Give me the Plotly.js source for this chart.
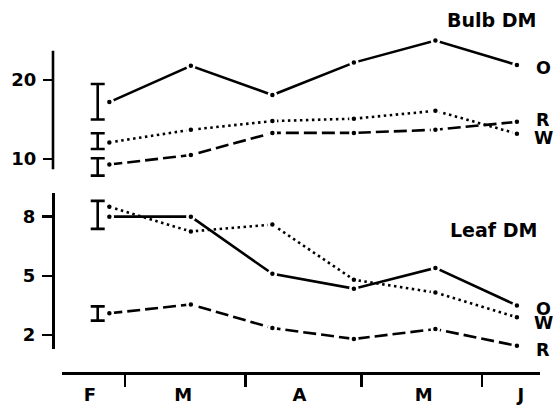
<!DOCTYPE html>
<html>
<head>
<meta charset="utf-8">
<script src="https://cdn.plot.ly/plotly-3.0.1.min.js"></script>
<style>html,body{margin:0;padding:0;background:#fff}#chart{width:553px;height:406px}</style>
</head>
<body>
<div id="chart"></div>
<script>
// ---- data (days from 1 Feb) ----
var sampleDays = [24, 45, 66, 87, 108, 129];
var bulbO = [17.2, 21.8, 18.1, 22.2, 25.0, 21.9];
var bulbW = [12.1, 13.7, 14.8, 15.1, 16.1, 13.2];
var bulbR = [9.3, 10.5, 13.3, 13.3, 13.7, 14.7];
var leafO = [8.0, 8.0, 5.1, 4.35, 5.4, 3.5];
var leafW = [8.5, 7.25, 7.6, 4.8, 4.15, 2.9];
var leafR = [3.1, 3.55, 2.35, 1.8, 2.3, 1.45];
var errDay = 21;
var bulbErrCenter = [17.25, 12.26, 8.99];
var bulbErrHalf = [2.25, 1.0, 1.1];
var leafErrCenter = [8.09, 3.09];
var leafErrHalf = [0.71, 0.36];
var monthLabels = ['F', 'M', 'A', 'M', 'J'];
var monthLabelDays = [19, 43, 73, 105, 130];
var monthBoundaries = [28, 59, 89, 120];
var bulbTicks = [10, 20];
var leafTicks = [2, 5, 8];

// ---- frame ----
var W = 553, H = 406, ML = 53, MR = 13, MT = 30, MB = 33;
var PW = W - ML - MR, PH = H - MT - MB;
function px(x) { return (x - ML) / PW; }
function py(y) { return (H - MB - y) / PH; }

var FONT = 'DejaVu Sans';
var mk = {color: 'black', size: 7, line: {color: 'white', width: 2.5}};
function series(x, y, ya, dash) {
  return {x: x, y: y, yaxis: ya, type: 'scatter', mode: 'lines+markers',
    line: {color: 'black', width: 2.6, dash: dash}, marker: mk, hoverinfo: 'skip'};
}
function errs(c, h, ya) {
  return {x: c.map(function () { return errDay; }), y: c, yaxis: ya, type: 'scatter', mode: 'markers',
    marker: {color: 'rgba(0,0,0,0)', size: 1},
    error_y: {type: 'data', array: h, visible: true, color: 'black', thickness: 2.6, width: 7},
    hoverinfo: 'skip'};
}

var traces = [
  errs(bulbErrCenter, bulbErrHalf, 'y'),
  errs(leafErrCenter, leafErrHalf, 'y2'),
  series(sampleDays, bulbO, 'y', 'solid'),
  series(sampleDays, bulbW, 'y', '2.5px,3.5px'),
  series(sampleDays, bulbR, 'y', '13px,5px'),
  series(sampleDays, leafO, 'y2', 'solid'),
  series(sampleDays, leafW, 'y2', '2.5px,3.5px'),
  series(sampleDays, leafR, 'y2', '13px,5px')
];

var tickFont = {family: FONT, size: 18, color: 'black', weight: 'bold'};
var layout = {
  width: W, height: H,
  margin: {l: ML, r: MR, t: MT, b: MB, pad: 0},
  paper_bgcolor: 'white', plot_bgcolor: 'white',
  showlegend: false,
  xaxis: {
    domain: [px(62), 1], range: [11.8, 134.95], anchor: 'free', position: 0,
    showline: true, linecolor: 'black', linewidth: 2.6, showgrid: false, zeroline: false,
    tickmode: 'array', tickvals: monthLabelDays, ticktext: monthLabels,
    ticks: 'outside', ticklen: 3, tickcolor: 'rgba(0,0,0,0)', ticklabelstandoff: 2,
    tickfont: {family: FONT, size: 18, color: 'black', weight: 'bold'},
    minor: {tickmode: 'array', tickvals: monthBoundaries, ticks: 'outside', ticklen: 12, tickwidth: 2.6, tickcolor: 'black', showgrid: false}
  },
  yaxis: {
    domain: [py(180), py(30)], range: [7.34, 26.33], anchor: 'free', position: 0,
    showline: false, showgrid: false, zeroline: false,
    tickmode: 'array', tickvals: bulbTicks, ticks: 'outside', ticklen: 10, tickwidth: 2.6, tickcolor: 'black',
    ticklabelstandoff: 3, tickfont: tickFont
  },
  yaxis2: {
    domain: [py(349), py(193)], range: [1.29, 9.20], anchor: 'free', position: 0,
    showline: true, linecolor: 'black', linewidth: 2.6, showgrid: false, zeroline: false,
    tickmode: 'array', tickvals: leafTicks, ticks: 'outside', ticklen: 10, tickwidth: 2.6, tickcolor: 'black',
    ticklabelstandoff: 3, tickfont: tickFont
  },
  shapes: [
    {type: 'line', xref: 'paper', yref: 'y', x0: 0, x1: 0, y0: 8.7, y1: 23.7, line: {color: 'black', width: 2.6}}
  ],
  annotations: [
    {text: 'Bulb DM', x: px(491.5), y: py(19.7)},
    {text: 'Leaf DM', x: px(493), y: py(230)}
  ].map(function (a) {
    return Object.assign({xref: 'paper', yref: 'paper', showarrow: false, xanchor: 'center', yanchor: 'middle',
      font: {family: FONT, size: 19, color: 'black', weight: 'bold'}}, a);
  }).concat([
    {text: 'O', x: px(543), y: py(68)},
    {text: 'R', x: px(543), y: py(119.7)},
    {text: 'W', x: px(543), y: py(137.5)},
    {text: 'O', x: px(543), y: py(308)},
    {text: 'W', x: px(543), y: py(322)},
    {text: 'R', x: px(543), y: py(349)}
  ].map(function (a) {
    return Object.assign({xref: 'paper', yref: 'paper', showarrow: false, xanchor: 'center', yanchor: 'middle',
      height: 13, valign: 'middle',
      font: {family: FONT, size: 17.5, color: 'black', weight: 'bold'}}, a);
  }))
};

Plotly.newPlot('chart', traces, layout, {displayModeBar: false, staticPlot: true});
</script>
</body>
</html>
